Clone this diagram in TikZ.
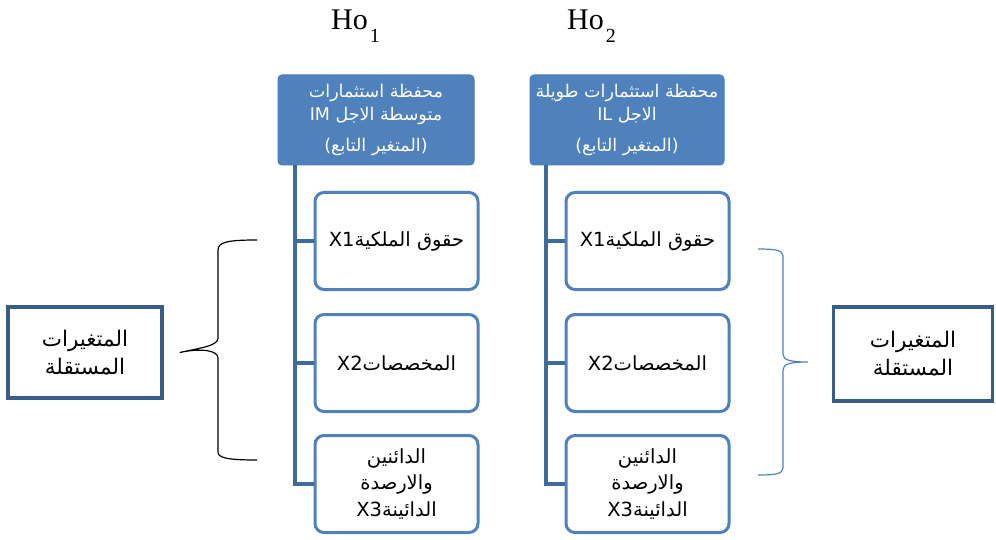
\documentclass[tikz,border=0pt]{standalone}
\usepackage{fontspec}
\newfontfamily\arfont[Script=Arabic]{DejaVu Sans}
\newfontfamily\serifho{Liberation Serif}
\TeXXeTstate=1
\definecolor{hdfill}{HTML}{4F81BD}
\definecolor{hdline}{HTML}{4A7EBB}
\definecolor{treeblue}{HTML}{3F6A9C}
\definecolor{indline}{HTML}{385D8A}
\tikzset{
  headbox/.style={draw=hdline, fill=hdfill, line width=1pt, rounded corners=4pt,
    minimum width=#1, minimum height=90pt, inner sep=1pt, align=center,
    text=white, font=\arfont\fontsize{17.5}{23}\selectfont},
  childbox/.style={draw=hdfill, line width=3pt, rounded corners=9pt, fill=white,
    minimum width=163pt, minimum height=97pt, inner sep=2pt, align=center,
    font=\arfont\fontsize{19.5}{26.5}\selectfont},
  indbox/.style={draw=indline, line width=3.5pt, fill=white,
    minimum width=#1, minimum height=91pt, align=center,
    font=\arfont\fontsize{21.5}{28}\selectfont},
  treeline/.style={draw=treeblue, line width=4pt},
  hotext/.style={font=\serifho\fontsize{30}{30}\selectfont, inner sep=0pt, anchor=base west},
}
\begin{document}
\begin{tikzpicture}[x=1pt,y=-1pt]
\useasboundingbox (0,0) rectangle (996,540);
% titles
\node[hotext] (ho1) at (331,30) {Ho\kern2pt\raisebox{-13pt}{\fontsize{20}{20}\selectfont 1}};
\node[hotext] (ho2) at (567,30) {Ho\kern2pt\raisebox{-13pt}{\fontsize{20}{20}\selectfont 2}};
% headers
\node[headbox=196pt] (hl) at (376,120) {\beginR محفظة استثمارات\endR\\ \beginR متوسطة الاجل \beginL IM\endL\endR\\[8pt] \beginR (المتغير التابع)\endR};
\node[headbox=194pt] (hr) at (627,120) {\beginR محفظة استثمارات طويلة\endR\\ \beginR الاجل \beginL IL\endL\endR\\[8pt] \beginR (المتغير التابع)\endR};
% children left
\node[childbox] (l1) at (396.5,241) {\beginR حقوق الملكية\beginL X1\endL\endR};
\node[childbox] (l2) at (396.5,363) {\beginR المخصصات\beginL X2\endL\endR};
\node[childbox] (l3) at (396.5,484) {\beginR الدائنين\endR\\ \beginR والارصدة\endR\\ \beginR الدائينة\beginL X3\endL\endR};
% children right
\node[childbox] (r1) at (647.5,241) {\beginR حقوق الملكية\beginL X1\endL\endR};
\node[childbox] (r2) at (647.5,363) {\beginR المخصصات\beginL X2\endL\endR};
\node[childbox] (r3) at (647.5,484) {\beginR الدائنين\endR\\ \beginR والارصدة\endR\\ \beginR الدائينة\beginL X3\endL\endR};
% tree lines
\draw[treeline] ([xshift=-19pt]l1.west |- hl.south) -- ([xshift=-19pt]l3.west) -- (l3.west);
\draw[treeline] ([xshift=-19pt]l1.west) -- (l1.west);
\draw[treeline] ([xshift=-19pt]l2.west) -- (l2.west);
\draw[treeline] ([xshift=-19pt]r1.west |- hr.south) -- ([xshift=-19pt]r3.west) -- (r3.west);
\draw[treeline] ([xshift=-19pt]r1.west) -- (r1.west);
\draw[treeline] ([xshift=-19pt]r2.west) -- (r2.west);
% independent variable boxes
\node[indbox=154pt] (il) at (85,352.5) {\beginR المتغيرات\endR\\ \beginR المستقلة\endR};
\node[indbox=159pt, minimum height=94pt] (ir) at (913,354) {\beginR المتغيرات\endR\\ \beginR المستقلة\endR};
% braces
\coordinate (lb) at ([xshift=16pt]il.east);
\draw[black, line width=1.2pt] (257,240) .. controls (228,240) and (218,242) .. (218,250)
  -- (218,338) .. controls (218,346) and (200,348) .. (lb)
  .. controls (200,348) and (218,350) .. (218,358)
  -- (218,452) .. controls (218,458) and (228,460) .. (257,460);
\coordinate (rb) at ([xshift=-24pt]ir.west |- 0,362);
\draw[hdfill, line width=1.2pt] (758,249) .. controls (775,249) and (783,250) .. (783,256)
  -- (783,354) .. controls (783,360) and (790,362) .. (rb)
  .. controls (790,362) and (783,364) .. (783,370)
  -- (783,468) .. controls (783,474) and (775,475) .. (758,475);
\end{tikzpicture}
\end{document}
